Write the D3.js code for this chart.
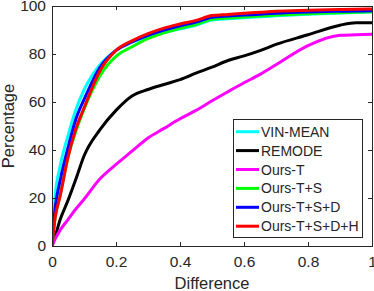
<!DOCTYPE html>
<html>
<head>
<meta charset="utf-8">
<script src="https://cdn.jsdelivr.net/npm/d3@7"></script>
<style>
  body { margin: 0; background: #fff; }
  text { font-family: "Liberation Sans", Arial, sans-serif; fill: #262626; }
</style>
</head>
<body>
<div id="chart"></div>
<script>
// difference thresholds (x) shared by every curve
var xs = [0, 0.01, 0.025, 0.05, 0.075, 0.1, 0.15, 0.2, 0.25, 0.3, 0.35, 0.4, 0.45, 0.5, 0.55, 0.6, 0.65, 0.7, 0.8, 0.9, 0.95, 1]

var vinMean = [0, 21, 33, 46, 57, 65, 75.5, 81.5, 85, 87.3, 89, 90.5, 92, 94.2, 94.7, 95.1, 95.5, 95.9, 96.6, 97.1, 97.3, 97.6]
var remode  = [0, 4, 10.8, 19, 28, 37.5, 48.5, 56.5, 62.5, 65.2, 67.3, 69.3, 72, 74.5, 77.3, 79.2, 81.4, 84, 88, 92, 93, 93]
var oursT   = [0, 3, 6.5, 11, 15.5, 19.5, 28, 34, 39.5, 45, 49, 53, 56.5, 60.5, 64.3, 68, 71.5, 75.5, 83.5, 87.8, 88, 88.2]
var oursTS  = [0, 12, 21, 37, 48, 57, 71, 79, 83, 86.5, 88.8, 90.7, 92.3, 94.5, 95, 95.4, 95.8, 96.2, 96.8, 97.2, 97.4, 97.6]
var oursTSD = [0, 16, 27, 41, 53, 61, 74.5, 81.5, 85, 87.8, 90, 91.8, 93.3, 95.3, 95.8, 96.2, 96.6, 97, 97.5, 97.8, 97.9, 98]
var oursTSDH = [0, 12, 20.5, 37, 49, 57.5, 73, 81.5, 85.5, 88.5, 90.8, 92.5, 94, 96, 96.5, 97, 97.4, 97.8, 98.2, 98.5, 98.6, 98.8]

var seriesNames = ["VIN-MEAN", "REMODE", "Ours-T", "Ours-T+S", "Ours-T+S+D", "Ours-T+S+D+H"]
var seriesValues = [vinMean, remode, oursT, oursTS, oursTSD, oursTSDH]
var seriesColors = ["#00ffff", "#000000", "#ff00ff", "#00ff00", "#0000ff", "#ff0000"]

var xTicks = [0, 0.2, 0.4, 0.6, 0.8, 1]
var yTicks = [0, 20, 40, 60, 80, 100]

var margin = { top: 6, right: 2, bottom: 45, left: 52 }
var width = 374 - margin.left - margin.right,
    height = 291 - margin.top - margin.bottom

var svg = d3.select("#chart").append("svg")
    .attr("width", 374)
    .attr("height", 291)
  .append("g")
    .attr("transform", "translate(" + margin.left + "," + margin.top + ")")

var xPositionScale = d3.scaleLinear().domain([0, 1]).range([0, width])
var yPositionScale = d3.scaleLinear().domain([0, 100]).range([height, 0])

var line = d3.line()
  .x(function(d) { return xPositionScale(d[0]) })
  .y(function(d) { return yPositionScale(d[1]) })
  .curve(d3.curveMonotoneX)

// clip so thick lines stay inside the box
svg.append("clipPath").attr("id", "clip")
  .append("rect").attr("width", width).attr("height", height)

svg.append("g").attr("clip-path", "url(#clip)")
  .selectAll(".curve")
  .data(seriesValues)
  .enter().append("path")
  .attr("class", "curve")
  .attr("fill", "none")
  .attr("stroke", function(d, i) { return seriesColors[i] })
  .attr("stroke-width", 3)
  .attr("stroke-linejoin", "round")
  .attr("d", function(vals) {
    return line(xs.map(function(x, j) { return [x, vals[j]] }))
  })

// axes, ticks pointing inward like matlab
var fmt = function(d) { return String(d) }
var xAxis = d3.axisBottom(xPositionScale).tickValues(xTicks).tickFormat(fmt).tickSizeInner(-4).tickSizeOuter(0).tickPadding(10)
var yAxis = d3.axisLeft(yPositionScale).tickValues(yTicks).tickFormat(fmt).tickSizeInner(-4).tickSizeOuter(0).tickPadding(6)
var xTop = d3.axisTop(xPositionScale).tickValues(xTicks).tickFormat("").tickSizeInner(-4).tickSizeOuter(0)
var yRight = d3.axisRight(yPositionScale).tickValues(yTicks).tickFormat("").tickSizeInner(-4).tickSizeOuter(0)

svg.append("g").attr("class", "axis").attr("transform", "translate(0," + height + ")").call(xAxis)
svg.append("g").attr("class", "axis").call(yAxis)
svg.append("g").attr("class", "axis").call(xTop)
svg.append("g").attr("class", "axis").attr("transform", "translate(" + width + ",0)").call(yRight)

svg.selectAll(".axis .domain").remove()
svg.selectAll(".axis line").attr("stroke", "#262626").attr("shape-rendering", "crispEdges")
svg.selectAll(".axis text").attr("font-size", 15.5).attr("fill", "#262626")
  .attr("font-family", "'Liberation Sans', Arial, sans-serif")

svg.append("rect")
  .attr("width", width).attr("height", height)
  .attr("fill", "none").attr("stroke", "#262626").attr("stroke-width", 1)
  .attr("shape-rendering", "crispEdges")

svg.append("text")
  .attr("x", width / 2).attr("y", height + 43)
  .attr("text-anchor", "middle").attr("font-size", 16.5)
  .text("Difference")

svg.append("text")
  .attr("transform", "translate(" + (-38) + "," + (height / 2) + ") rotate(-90)")
  .attr("text-anchor", "middle").attr("font-size", 16.5)
  .text("Percentage")

// legend
var legend = svg.append("g").attr("transform", "translate(181,113)")
legend.append("rect")
  .attr("width", 129).attr("height", 118)
  .attr("fill", "#fff").attr("stroke", "#262626").attr("stroke-width", 1)
  .attr("shape-rendering", "crispEdges")

var rows = legend.selectAll(".row")
  .data(seriesNames)
  .enter().append("g")
  .attr("transform", function(d, i) { return "translate(0," + (12.7 + i * 18.9) + ")" })

rows.append("line")
  .attr("x1", 3).attr("x2", 26)
  .attr("stroke", function(d, i) { return seriesColors[i] })
  .attr("stroke-width", 3)

rows.append("text")
  .attr("x", 28).attr("dy", "0.36em")
  .attr("font-size", 14)
  .text(function(d) { return d })
</script>
</body>
</html>
